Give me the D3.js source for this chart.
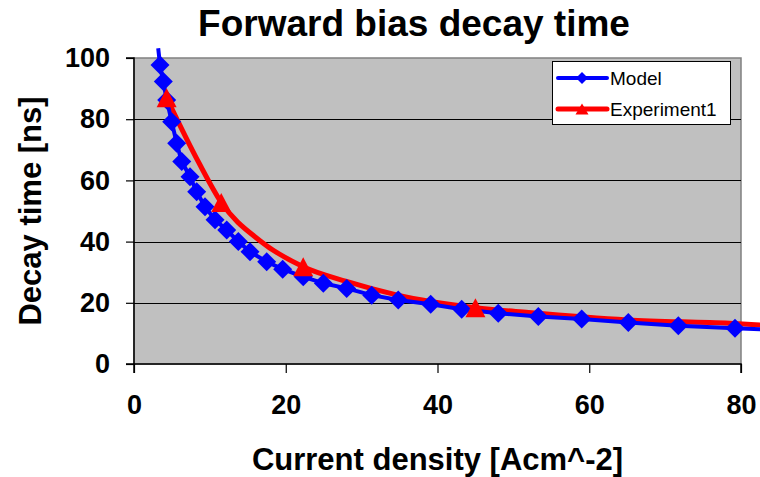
<!DOCTYPE html>
<html>
<head>
<meta charset="utf-8">
<script src="https://cdn.jsdelivr.net/npm/d3@7"></script>
<style>
  html, body { margin: 0; padding: 0; background: #fff; }
  svg { display: block; }
  text { font-family: "Liberation Sans", Arial, sans-serif; fill: #000; }
</style>
</head>
<body>
<svg id="chart" width="760" height="477"></svg>
<script>
// Model: simulated decay time vs current density
const modelX = [3.19, 3.43, 3.86, 4.31, 4.97, 5.63, 6.29, 7.38, 8.26, 9.36, 10.68, 12.22, 13.75, 15.29, 17.49, 19.6, 22.31, 24.95, 28.03, 31.33, 34.83, 39.1, 43.19, 48.01, 53.29, 59.0, 65.15, 71.74, 79.21, 87.5];
const modelY = [103.2, 97.7, 92.3, 86.3, 79.2, 72.1, 66.2, 61.2, 56.3, 51.4, 47.1, 43.8, 40.0, 36.7, 33.4, 31.0, 28.5, 26.4, 24.7, 22.5, 20.9, 19.5, 17.9, 16.6, 15.5, 14.7, 13.6, 12.5, 11.7, 10.9];

// Experiment1: measured points and the smoothed trend drawn through them
const expX = [4.3, 11.5, 22.3, 45.0];
const expY = [87.0, 52.8, 31.8, 18.4];
const expCurveX = [4.3, 8.5, 11.5, 16.6, 22.3, 28.0, 34.6, 45.0, 52.0, 65.0, 78.5, 88.0];
const expCurveY = [87.0, 66.0, 52.8, 40.3, 31.8, 27.0, 22.6, 18.4, 16.8, 14.4, 13.3, 12.0];

const xTicks = [0, 20, 40, 60, 80];
const yTicks = [0, 20, 40, 60, 80, 100];
const seriesNames = ["Model", "Experiment1"];

const svg = d3.select("#chart");
const W = 760, H = 477;
const plot = { left: 134, right: 741, top: 58, bottom: 364 };

const x = d3.scaleLinear().domain([0, 80]).range([plot.left, plot.right]);
const y = d3.scaleLinear().domain([0, 100]).range([plot.bottom, plot.top]);

const FONT = '"Liberation Sans", Arial, sans-serif';

// Plot area background
svg.append("rect")
  .attr("x", plot.left).attr("y", plot.top)
  .attr("width", plot.right - plot.left).attr("height", plot.bottom - plot.top)
  .attr("fill", "#c0c0c0")
  .attr("stroke", "#808080").attr("stroke-width", 1.5);

// Horizontal gridlines
svg.append("g")
  .selectAll("line")
  .data(yTicks.filter(d => d > 0 && d < 100))
  .join("line")
  .attr("x1", plot.left).attr("x2", plot.right)
  .attr("y1", d => Math.round(y(d)) + 0.5).attr("y2", d => Math.round(y(d)) + 0.5)
  .attr("stroke", "#000").attr("stroke-width", 1);

// Axes
const yAxis = d3.axisLeft(y).tickValues(yTicks).tickSize(8).tickPadding(16);
const xAxis = d3.axisBottom(x).tickValues(xTicks).tickSize(9).tickPadding(22);

const gy = svg.append("g").attr("transform", `translate(${plot.left},0)`).call(yAxis);
const gx = svg.append("g").attr("transform", `translate(0,${plot.bottom})`).call(xAxis);

[gx, gy].forEach(g => {
  g.select(".domain").attr("stroke", "#000").attr("stroke-width", 1.5);
  g.selectAll(".tick line").attr("stroke", "#000").attr("stroke-width", 1.2);
  g.selectAll(".tick text")
    .style("font-family", FONT).style("font-weight", "bold").style("font-size", "27px")
    .attr("fill", "#000");
});
gy.select(".domain").attr("d", `M-8,${plot.top}H0V${plot.bottom}H-8`);
gx.select(".domain").attr("d", `M${plot.left},9V0H${plot.right}V9`);

// Line layers
const lineModel = d3.line().x(d => x(d[0])).y(d => y(d[1]));
const lineExp = d3.line().x(d => x(d[0])).y(d => y(d[1])).curve(d3.curveMonotoneX);

const modelPts = modelX.map((v, i) => [v, modelY[i]]);
const expPts = expX.map((v, i) => [v, expY[i]]);
const expCurvePts = expCurveX.map((v, i) => [v, expCurveY[i]]);

svg.append("defs").append("clipPath").attr("id", "chartClip")
  .append("rect").attr("x", 0).attr("y", 0).attr("width", W).attr("height", H);

const lines = svg.append("g").attr("clip-path", "url(#chartClip)");
lines.append("path").datum(expCurvePts)
  .attr("d", lineExp).attr("fill", "none")
  .attr("stroke", "#ff0000").attr("stroke-width", 5).attr("stroke-linejoin", "round");
lines.append("path").datum(modelPts)
  .attr("d", lineModel).attr("fill", "none")
  .attr("stroke", "#0000ff").attr("stroke-width", 4).attr("stroke-linejoin", "round");

const inDomain = d => d[0] >= 0 && d[0] <= 80 && d[1] >= 0 && d[1] <= 100;

// Markers
const diamond = r => `M0,${-r}L${r},0L0,${r}L${-r},0Z`;
const triangle = (w, h) => `M0,${-h / 2}L${w / 2},${h / 2}L${-w / 2},${h / 2}Z`;

svg.append("g").selectAll("path")
  .data(modelPts.filter(inDomain))
  .join("path")
  .attr("transform", d => `translate(${x(d[0])},${y(d[1])})`)
  .attr("d", diamond(9.5))
  .attr("fill", "#0000ff");

svg.append("g").selectAll("path")
  .data(expPts.filter(inDomain))
  .join("path")
  .attr("transform", d => `translate(${x(d[0])},${y(d[1])})`)
  .attr("d", triangle(20, 19))
  .attr("fill", "#ff0000");

// Titles
svg.append("text")
  .attr("x", 414).attr("y", 36)
  .attr("text-anchor", "middle")
  .style("font-family", FONT).style("font-weight", "bold").style("font-size", "37px")
  .text("Forward bias decay time");

svg.append("text")
  .attr("x", (plot.left + plot.right) / 2).attr("y", 470)
  .attr("text-anchor", "middle")
  .style("font-family", FONT).style("font-weight", "bold").style("font-size", "31px")
  .text("Current density [Acm^-2]");

svg.append("text")
  .attr("transform", `translate(41,${(plot.top + plot.bottom) / 2}) rotate(-90)`)
  .attr("text-anchor", "middle")
  .style("font-family", FONT).style("font-weight", "bold").style("font-size", "31px")
  .text("Decay time [ns]");

// Legend
const legend = svg.append("g");
legend.append("rect")
  .attr("x", 552.5).attr("y", 61.5).attr("width", 178).attr("height", 63)
  .attr("fill", "#fff").attr("stroke", "#000").attr("stroke-width", 1);

const legendRows = [
  { name: seriesNames[0], color: "#0000ff", width: 4, y: 78, marker: diamond(6) },
  { name: seriesNames[1], color: "#ff0000", width: 5, y: 109, marker: triangle(13, 11) }
];
legendRows.forEach(r => {
  legend.append("line")
    .attr("x1", 558).attr("x2", 607).attr("y1", r.y).attr("y2", r.y)
    .attr("stroke", r.color).attr("stroke-width", r.width).attr("stroke-linecap", "round");
  legend.append("path")
    .attr("transform", `translate(582,${r.y})`)
    .attr("d", r.marker).attr("fill", r.color);
  legend.append("text")
    .attr("x", 610).attr("y", r.y).attr("dy", "0.35em")
    .style("font-family", FONT).style("font-size", "19px")
    .text(r.name);
});
</script>
</body>
</html>
